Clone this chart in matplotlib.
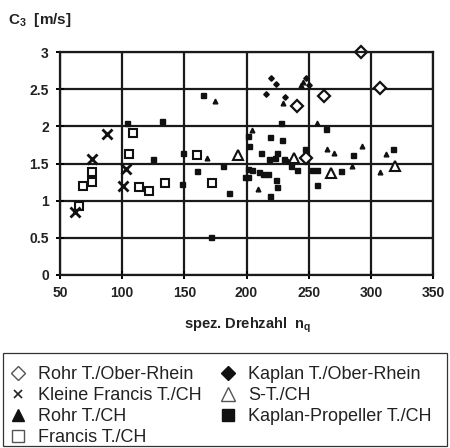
import matplotlib
matplotlib.use("Agg")
import matplotlib.pyplot as plt
from matplotlib.lines import Line2D
from matplotlib.patches import Rectangle

plt.rcParams['font.family'] = ['Liberation Sans', 'DejaVu Sans']
plt.rcParams['mathtext.default'] = 'regular'

# Rohr T./Ober-Rhein (open diamonds)
rohr_or_x = [241, 262, 292, 307.5, 248]
rohr_or_y = [2.28, 2.41, 3.00, 2.52, 1.58]
# Kaplan T./Ober-Rhein (filled diamonds)
kap_or_x = [219.7, 224, 216, 248, 250.5, 231]
kap_or_y = [2.65, 2.57, 2.43, 2.65, 2.56, 2.40]
# Kleine Francis T./CH (x)
kf_x = [62, 75.5, 87.5, 103, 101]
kf_y = [0.85, 1.56, 1.90, 1.42, 1.20]
# S-T./CH (open triangles)
st_x = [193.5, 238.5, 268.3, 319.4]
st_y = [1.61, 1.58, 1.37, 1.46]
# Rohr T./CH (filled triangles)
rohr_ch_x = [175, 168, 204.7, 209, 233.6, 257, 264.5, 270, 284.6, 292.6, 312, 307, 229, 243.5, 245.7]
rohr_ch_y = [2.34, 1.58, 1.95, 1.16, 1.54, 2.04, 1.70, 1.64, 1.46, 1.73, 1.63, 1.39, 2.31, 2.56, 2.60]
# Kaplan-Propeller T./CH (filled squares)
kp_x = [103.6, 132.3, 124.5, 149, 148, 160.4, 181, 186, 171.5, 165,
        228, 263.7, 201.5, 218.9, 228.7, 202, 211.7, 224.3, 247, 218.3,
        222.9, 230.4, 235.8, 240.4, 252.4, 256.4, 201.4, 204.7, 210, 213.5,
        217, 198.8, 201, 224, 224.8, 257, 218.9, 275.7, 285.4, 318]
kp_y = [2.04, 2.07, 1.56, 1.64, 1.22, 1.40, 1.47, 1.10, 0.51, 2.42,
        2.04, 1.96, 1.87, 1.86, 1.81, 1.74, 1.64, 1.64, 1.70, 1.56,
        1.58, 1.56, 1.46, 1.41, 1.41, 1.41, 1.43, 1.41, 1.38, 1.36,
        1.36, 1.32, 1.32, 1.28, 1.19, 1.21, 1.06, 1.40, 1.61, 1.70]
# Francis T./CH (open squares)
fr_x = [65.5, 68.8, 76, 75.5, 109, 105.5, 113.8, 121.6, 134.5, 160, 172]
fr_y = [0.93, 1.20, 1.25, 1.39, 1.91, 1.63, 1.19, 1.13, 1.24, 1.62, 1.24]

x_ticks = [50, 100, 150, 200, 250, 300, 350]
y_ticks = [0, 0.5, 1, 1.5, 2, 2.5, 3]
y_ticklabels = ['0', '0.5', '1', '1.5', '2', '2.5', '3']

fig = plt.figure(figsize=(4.5, 4.48), dpi=100)
ax = fig.add_axes([60/450, 1-275/448, (433-60)/450, (275-52)/448])
ax.set_xlim(50, 350)
ax.set_ylim(0, 3)
ax.set_xticks(x_ticks)
ax.set_yticks(y_ticks)
ax.set_yticklabels(y_ticklabels)
ax.grid(True, color='#1a1a1a', linewidth=1.6)
ax.set_axisbelow(True)
for s in ax.spines.values():
    s.set_linewidth(1.6)
    s.set_color('#1a1a1a')
ax.tick_params(direction='inout', length=6, width=1.4, labelsize=10, pad=5)
for lab in ax.get_xticklabels() + ax.get_yticklabels():
    lab.set_fontweight('bold')
    lab.set_color('#222222')

k = '#111111'
ax.plot(kp_x, kp_y, 's', color=k, ms=3.6, ls='none', clip_on=False)
ax.plot(rohr_ch_x, rohr_ch_y, '^', color=k, ms=3.4, ls='none', clip_on=False)
ax.plot(kap_or_x, kap_or_y, 'D', color=k, ms=2.8, ls='none', clip_on=False)
ax.plot(fr_x, fr_y, 's', mfc='white', mec=k, mew=1.5, ms=6, ls='none', clip_on=False)
ax.plot(kf_x, kf_y, 'x', color=k, mew=2, ms=7, ls='none', clip_on=False)
ax.plot(st_x, st_y, '^', mfc='white', mec=k, mew=1.5, ms=7, ls='none', clip_on=False)
ax.plot(rohr_or_x, rohr_or_y, 'D', mfc='white', mec=k, mew=1.6, ms=6, ls='none', clip_on=False)

fig.text(8/450, 1-20/448, 'C$_3$  [m/s]', fontsize=11, fontweight='bold',
         color='#222222', ha='left', va='center')
fig.text(248/450, 1-325/448, 'spez. Drehzahl  n$_q$', fontsize=10.5, fontweight='bold',
         color='#222222', ha='center', va='center')

g = '#555555'
handles = [
    Line2D([], [], marker='D', mfc='white', mec=g, mew=1, ms=7, ls='none'),
    Line2D([], [], marker='x', color='#222222', mew=1.2, ms=6, ls='none'),
    Line2D([], [], marker='^', color='#111111', ms=9, ls='none'),
    Line2D([], [], marker='s', mfc='white', mec=g, mew=1, ms=9, ls='none'),
    Line2D([], [], marker='D', color='#111111', ms=7, ls='none'),
    Line2D([], [], marker='^', mfc='white', mec=g, mew=1, ms=10, ls='none'),
    Line2D([], [], marker='s', color='#111111', ms=9, ls='none'),
]
labels = ['Rohr T./Ober-Rhein', 'Kleine Francis T./CH', 'Rohr T./CH', 'Francis T./CH',
          'Kaplan T./Ober-Rhein', 'S-T./CH', 'Kaplan-Propeller T./CH']
leg = fig.legend(handles, labels, ncol=2, loc='upper left',
                 bbox_to_anchor=(4/450, 1-445/448, 433/450, 84/448),
                 mode='expand', frameon=False, fontsize=13, handlelength=0.95,
                 handletextpad=0.65, labelspacing=0.22, borderpad=0.3,
                 borderaxespad=0, columnspacing=1.0)
for t in leg.get_texts():
    t.set_color('#222222')

fig.add_artist(Rectangle((3/450, 1-446/448), 444/450, 93/448, transform=fig.transFigure,
                         fill=False, edgecolor='#333333', linewidth=0.9))

fig.savefig('out.png', dpi=100)
